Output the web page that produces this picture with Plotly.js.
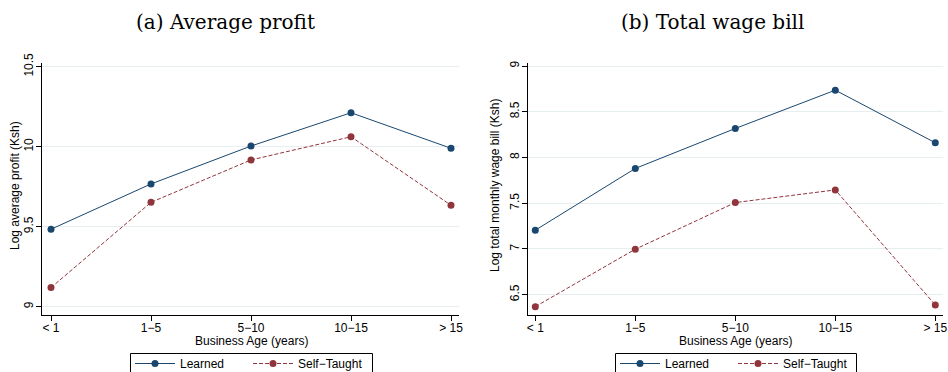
<!DOCTYPE html>
<html>
<head>
<meta charset="utf-8">
<script src="https://cdn.plot.ly/plotly-3.0.1.min.js"></script>
<style>
  html, body { margin: 0; padding: 0; background: #fff; }
  #chart { width: 948px; height: 372px; }
</style>
</head>
<body>
<div id="chart"></div>
<script>
// ---- data ----
const categories = ["< 1", "1\u22125", "5\u221210", "10\u221215", "> 15"];
const profitLearned = [9.484, 9.767, 10.004, 10.212, 9.99];
const profitSelfTaught = [9.119, 9.652, 9.917, 10.062, 9.634];
const wageLearned = [7.205, 7.88, 8.317, 8.736, 8.161];
const wageSelfTaught = [6.369, 6.997, 7.507, 7.645, 6.387];
const seriesNames = ["Learned", "Self\u2212Taught"];
const panelTitles = ["(a) Average profit", "(b) Total wage bill"];
const xTitle = "Business Age (years)";
const yTitles = ["Log average profit (Ksh)", "Log total monthly wage bill (Ksh)"];

// ---- styles ----
const navy = "#1a476f";
const maroon = "#90353b";
const W = 948, H = 372;
const sans = "Liberation Sans, Arial, sans-serif";
const px = v => v / W;
const py = v => 1 - v / H;

function tr(y, name, color, dash, xa, ya, leg) {
  return {
    x: categories, y: y, name: name, type: "scatter", mode: "lines+markers",
    xaxis: xa, yaxis: ya, legend: leg,
    line: { color: color, width: 1, dash: dash },
    marker: { color: color, size: 7 }
  };
}

const data = [
  tr(profitLearned, seriesNames[0], navy, "solid", "x", "y", "legend"),
  tr(profitSelfTaught, seriesNames[1], maroon, "4px,2px", "x", "y", "legend"),
  tr(wageLearned, seriesNames[0], navy, "solid", "x2", "y2", "legend2"),
  tr(wageSelfTaught, seriesNames[1], maroon, "4px,2px", "x2", "y2", "legend2")
];

const yDom = [py(314.5), py(63)];

function xaxis(dom, range) {
  return {
    domain: dom, type: "category", categoryorder: "array", categoryarray: categories,
    range: range, showline: true, linecolor: "#000", linewidth: 1,
    ticks: "outside", ticklen: 5, tickcolor: "#000", tickwidth: 1,
    ticklabelstandoff: -3,
    showgrid: false, zeroline: false, automargin: false,
    tickfont: { family: sans, size: 12, color: "#000" }
  };
}
function yaxis(range, anchor) {
  return {
    domain: yDom, range: range, anchor: anchor, dtick: 0.5, tick0: 0,
    showline: true, linecolor: "#000", linewidth: 1,
    ticks: "outside", ticklen: 5, tickcolor: "#000", tickwidth: 1,
    tickangle: -90, ticklabelstandoff: -2, automargin: false,
    showgrid: true, gridcolor: "#e6eef0", gridwidth: 1, zeroline: false,
    tickfont: { family: sans, size: 12, color: "#000" }
  };
}

function legend(x) {
  return {
    orientation: "h", x: px(x), xanchor: "left", y: py(349), yanchor: "top",
    borderwidth: 0, bgcolor: "rgba(0,0,0,0)", itemwidth: 40, entrywidth: 63,
    font: { family: sans, size: 12, color: "#000" }
  };
}

function txt(text, x, y, size, family, angle) {
  return { text: text, x: px(x), y: py(y), xref: "paper", yref: "paper",
    xanchor: "center", yanchor: "middle", showarrow: false, textangle: angle || 0,
    font: { family: family, size: size, color: "#000" } };
}
function box(x0, x1, y0, y1) {
  return { type: "rect", xref: "paper", yref: "paper", x0: px(x0), x1: px(x1),
    y0: py(y1), y1: py(y0), line: { color: "#000", width: 1 }, fillcolor: "rgba(0,0,0,0)" };
}

const serif = "DejaVu Serif, serif";
const layout = {
  width: W, height: H,
  margin: { l: 0, r: 0, t: 0, b: 0, autoexpand: false },
  paper_bgcolor: "#fff", plot_bgcolor: "#fff",
  showlegend: true,
  xaxis: Object.assign(xaxis([px(42), px(459)], [-0.09, 4.08]), { anchor: "y" }),
  yaxis: yaxis([8.951, 10.523], "x"),
  xaxis2: Object.assign(xaxis([px(528), px(943)], [-0.073, 4.077]), { anchor: "y2" }),
  yaxis2: yaxis([6.283, 9.033], "x2"),
  legend: legend(130),
  legend2: legend(615),
  shapes: [ box(130.5, 372.5, 353.5, 380), box(615.5, 856.5, 353.5, 380) ],
  annotations: [
    txt(panelTitles[0], 225, 22, 20, serif),
    txt(panelTitles[1], 712, 22, 20, serif),
    txt(xTitle, 251, 341, 12, sans),
    txt(xTitle, 735, 341, 12, sans),
    txt(yTitles[0], 15, 186, 12, sans, -90),
    txt(yTitles[1], 495, 186, 12, sans, -90)
  ]
};

Plotly.newPlot("chart", data, layout, { displayModeBar: false, staticPlot: true });
</script>
</body>
</html>
